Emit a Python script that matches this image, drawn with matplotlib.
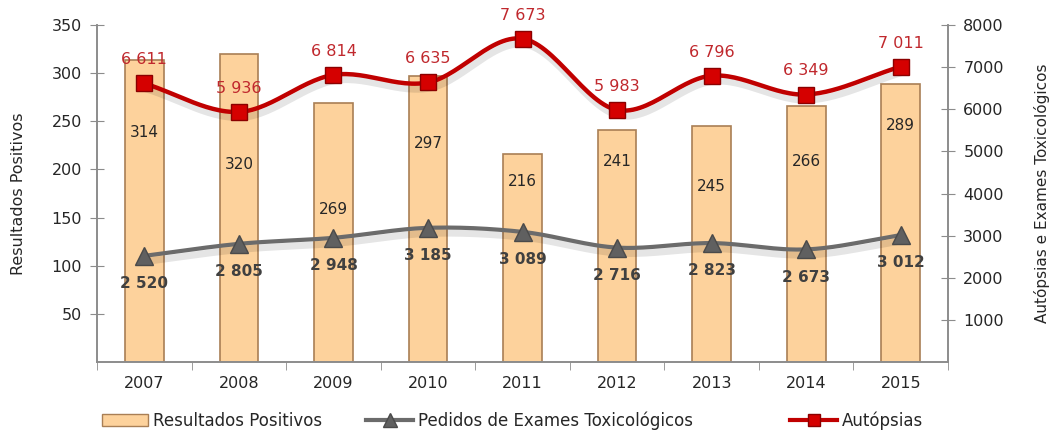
import numpy as np
import matplotlib
matplotlib.use("Agg")
import matplotlib.pyplot as plt
import matplotlib.patheffects as pe
from matplotlib.lines import Line2D
from matplotlib.patches import Patch

plt.rcParams['font.family'] = ['DejaVu Sans']

years = ["2007", "2008", "2009", "2010", "2011", "2012", "2013", "2014", "2015"]
resultados = [314, 320, 269, 297, 216, 241, 245, 266, 289]
pedidos = [2520, 2805, 2948, 3185, 3089, 2716, 2823, 2673, 3012]
autopsias = [6611, 5936, 6814, 6635, 7673, 5983, 6796, 6349, 7011]
# where the bar value labels sit (left axis units), as placed in the original
bar_label_pos = [238, 205, 158, 227, 187, 208, 182, 208, 246]

GRAY = "#8c8c8c"
TXT = "#262626"


def fmt(v):
    return f"{v:,}".replace(",", " ")


def smooth(xs, ys, n=30):
    # Catmull-Rom curve through the points (Excel-like smoothed line)
    xs = np.asarray(xs, float); ys = np.asarray(ys, float)
    px = np.concatenate([[2 * xs[0] - xs[1]], xs, [2 * xs[-1] - xs[-2]]])
    py = np.concatenate([[2 * ys[0] - ys[1]], ys, [2 * ys[-1] - ys[-2]]])
    ox, oy = [], []
    t = np.linspace(0, 1, n)
    for i in range(1, len(px) - 2):
        for p, out in ((px, ox), (py, oy)):
            p0, p1, p2, p3 = p[i - 1], p[i], p[i + 1], p[i + 2]
            out.extend(0.5 * ((2 * p1) + (-p0 + p2) * t
                              + (2 * p0 - 5 * p1 + 4 * p2 - p3) * t ** 2
                              + (-p0 + 3 * p1 - 3 * p2 + p3) * t ** 3))
    return np.array(ox), np.array(oy)


fig = plt.figure(figsize=(10.55, 4.3), dpi=100)
ax = fig.add_axes([0.092, 0.158, 0.8066, 0.784])
ax2 = ax.twinx()

x = np.arange(len(years))
ax.bar(x, resultados, width=0.41, color="#FDD29C", edgecolor="#A97F55", linewidth=1.2, zorder=2)
for xi, yp, v in zip(x, bar_label_pos, resultados):
    ax.text(xi, yp, str(v), ha="center", va="center", fontsize=11, color=TXT, zorder=3)

shadow = [pe.SimpleLineShadow(offset=(1.5, -4), alpha=0.1, shadow_color="black", linewidth=5),
          pe.Normal()]

sx, sy = smooth(x, pedidos)
ax2.plot(sx, sy, color="#6b6b6b", lw=3, path_effects=shadow, zorder=3)
ax2.plot(x, pedidos, ls="none", marker="^", ms=13, color="#606060", mec="#4a4a4a", zorder=4)
for xi, v in zip(x, pedidos):
    ax2.annotate(fmt(v), (xi, v), xytext=(0, -20), textcoords="offset points",
                 ha="center", va="center", fontsize=11, fontweight="bold", color="#404040")

sx, sy = smooth(x, autopsias)
ax2.plot(sx, sy, color="#C00000", lw=3.2, path_effects=shadow, zorder=3)
ax2.plot(x, autopsias, ls="none", marker="s", ms=12, color="#D50000", mec="#8B0000", mew=1, zorder=4)
for xi, v in zip(x, autopsias):
    ax2.annotate(fmt(v), (xi, v), xytext=(0, 17), textcoords="offset points",
                 ha="center", va="center", fontsize=11.5, color="#C0282D")

ax.set_xlim(-0.5, len(years) - 0.5)
ax.set_ylim(0, 350)
ax2.set_ylim(0, 8000)
ax.set_yticks(range(50, 351, 50))
ax2.set_yticks(range(1000, 8001, 1000))
ax.set_xticks(x)
ax.set_xticklabels(years)
ax.set_xticks(np.arange(-0.5, len(years), 1), minor=True)
ax.tick_params(axis="x", which="major", length=0, pad=10, labelsize=11.5, labelcolor=TXT)
ax.tick_params(axis="x", which="minor", length=6, direction="out", color=GRAY)
ax.tick_params(axis="y", direction="inout", length=10, color=GRAY, labelsize=11.5, labelcolor=TXT, pad=6)
ax2.tick_params(axis="y", direction="inout", length=10, color=GRAY, labelsize=11.5, labelcolor=TXT, pad=6)

for a in (ax, ax2):
    a.spines["top"].set_visible(False)
    for s in ("left", "right", "bottom"):
        a.spines[s].set_color(GRAY)
        a.spines[s].set_linewidth(1.2)

ax.set_ylabel("Resultados Positivos", fontsize=11.5, color=TXT, labelpad=18)
ax2.set_ylabel("Autópsias e Exames Toxicológicos", fontsize=11, color=TXT, labelpad=22)

handles = [
    Patch(facecolor="#FDD29C", edgecolor="#A97F55", label="Resultados Positivos"),
    Line2D([], [], color="#6b6b6b", lw=3, marker="^", ms=10, mfc="#606060", mec="#4a4a4a",
           label="Pedidos de Exames Toxicológicos"),
    Line2D([], [], color="#C00000", lw=3, marker="s", ms=9, mfc="#D50000", mec="#8B0000",
           label="Autópsias"),
]
leg_x = [0.082, 0.333, 0.735]
for h, lx in zip(handles, leg_x):
    fig.legend(handles=[h], loc="lower left", bbox_to_anchor=(lx, -0.035), frameon=False,
               fontsize=12, handlelength=2.8, handletextpad=0.3, labelcolor=TXT)

fig.savefig("out.png", dpi=100)
